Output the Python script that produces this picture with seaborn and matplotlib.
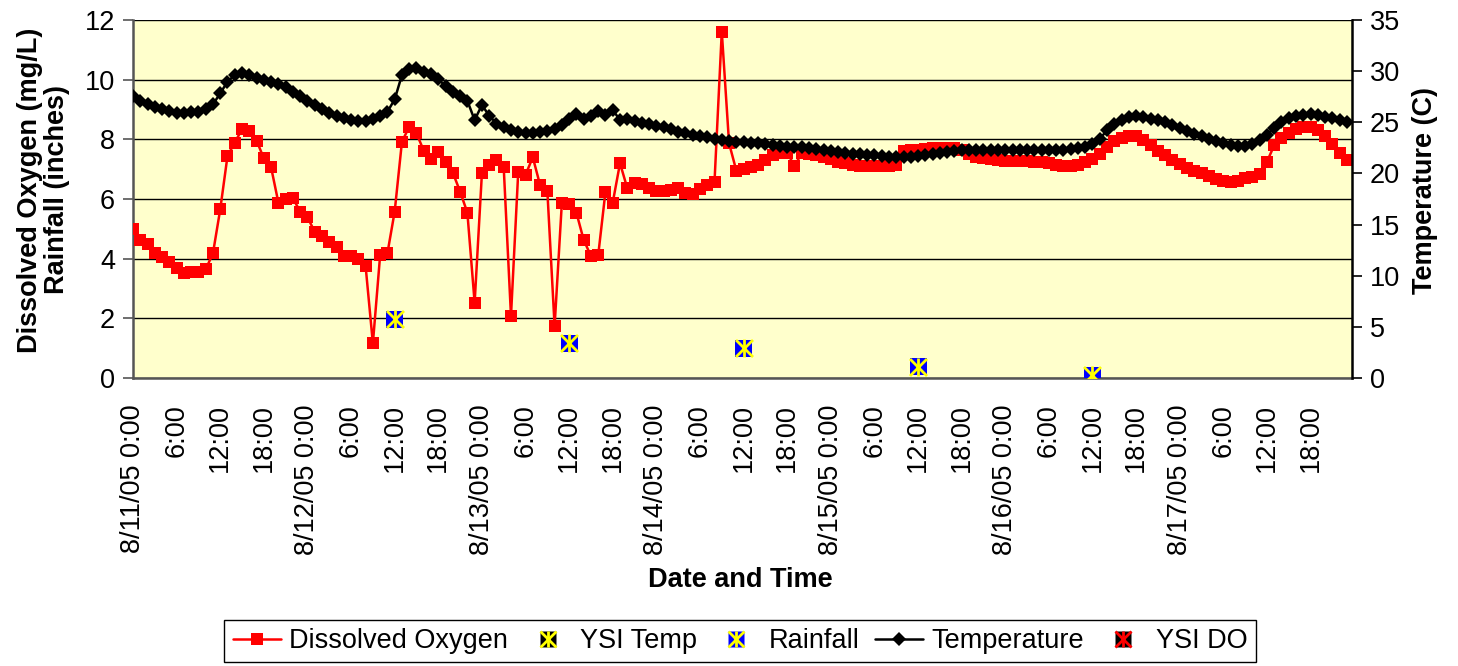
import matplotlib
matplotlib.use("Agg")
import matplotlib.pyplot as plt
from matplotlib.lines import Line2D
import seaborn as sns
import numpy as np

# ---------------- data (hourly, hour 0 = 8/11/05 0:00) ----------------
do_values = [
    5.0, 4.63, 4.49, 4.2, 4.07, 3.88, 3.68, 3.51, 3.55, 3.56,
    3.64, 4.18, 5.65, 7.44, 7.89, 8.34, 8.29, 7.96, 7.36, 7.06,
    5.88, 5.99, 6.02, 5.58, 5.39, 4.9, 4.76, 4.57, 4.4, 4.09,
    4.09, 3.98, 3.75, 1.16, 4.12, 4.18, 5.58, 7.92, 8.42, 8.2,
    7.62, 7.33, 7.58, 7.25, 6.88, 6.25, 5.54, 2.52, 6.86, 7.14,
    7.31, 7.06, 2.08, 6.92, 6.81, 7.4, 6.47, 6.28, 1.74, 5.88,
    5.83, 5.54, 4.63, 4.09, 4.12, 6.25, 5.88, 7.2, 6.36, 6.55,
    6.5, 6.36, 6.28, 6.28, 6.3, 6.36, 6.21, 6.17, 6.32, 6.47,
    6.58, 11.61, 7.87, 6.95, 7.0, 7.06, 7.14, 7.31, 7.48, 7.53,
    7.55, 7.11, 7.53, 7.51, 7.48, 7.4, 7.33, 7.25, 7.2, 7.14,
    7.11, 7.1, 7.1, 7.1, 7.12, 7.15, 7.6, 7.63, 7.65, 7.68,
    7.7, 7.72, 7.72, 7.7, 7.65, 7.5, 7.42, 7.38, 7.33, 7.3,
    7.28, 7.27, 7.26, 7.26, 7.25, 7.24, 7.22, 7.15, 7.12, 7.12,
    7.15, 7.25, 7.35, 7.5, 7.75, 7.95, 8.05, 8.1, 8.1, 7.98,
    7.8, 7.62, 7.48, 7.3, 7.16, 7.05, 6.95, 6.87, 6.78, 6.68,
    6.62, 6.56, 6.6, 6.7, 6.75, 6.85, 7.25, 7.8, 8.03, 8.2,
    8.35, 8.42, 8.4, 8.3, 8.1, 7.85, 7.55, 7.3,
]

temp_values = [
    27.57, 27.1, 26.75, 26.46, 26.26, 26.1, 25.93, 25.87, 25.97, 26.03,
    26.26, 26.75, 27.83, 28.97, 29.62, 29.78, 29.62, 29.3, 29.13, 28.97,
    28.74, 28.48, 27.99, 27.57, 27.1, 26.69, 26.26, 25.87, 25.6, 25.38,
    25.22, 25.12, 25.12, 25.28, 25.6, 26.03, 27.24, 29.62, 30.17, 30.27,
    29.95, 29.72, 29.2, 28.54, 27.99, 27.57, 27.1, 25.22, 26.69, 25.65,
    24.88, 24.5, 24.24, 24.08, 23.98, 23.98, 24.08, 24.14, 24.31, 24.73,
    25.28, 25.81, 25.28, 25.6, 26.13, 25.71, 26.2, 25.22, 25.28, 25.15,
    24.96, 24.83, 24.63, 24.5, 24.31, 24.08, 23.92, 23.75, 23.66, 23.53,
    23.33, 23.26, 23.2, 23.1, 23.1, 23.0, 22.94, 22.87, 22.78, 22.68,
    22.61, 22.61, 22.55, 22.45, 22.35, 22.29, 22.19, 22.09, 22.02, 21.9,
    21.9, 21.85, 21.8, 21.72, 21.65, 21.6, 21.57, 21.6, 21.7, 21.8,
    21.9, 22.0, 22.1, 22.2, 22.25, 22.3, 22.3, 22.3, 22.3, 22.3,
    22.3, 22.3, 22.3, 22.3, 22.3, 22.3, 22.3, 22.3, 22.32, 22.35,
    22.45, 22.6, 22.85, 23.4, 24.2, 24.85, 25.25, 25.5, 25.6, 25.5,
    25.35, 25.2, 25.0, 24.75, 24.45, 24.15, 23.9, 23.65, 23.4, 23.15,
    22.95, 22.75, 22.65, 22.72, 22.9, 23.26, 23.8, 24.45, 25.0, 25.4,
    25.65, 25.75, 25.8, 25.7, 25.55, 25.4, 25.25, 25.05,
]

hours = list(range(len(do_values)))

rain_hours = [36, 60, 84, 108, 132]
rain_values = [1.97, 1.16, 0.99, 0.38, 0.10]

tick_hours = list(range(0, 163, 6))
tick_labels = [
    "8/11/05 0:00", "6:00", "12:00", "18:00",
    "8/12/05 0:00", "6:00", "12:00", "18:00",
    "8/13/05 0:00", "6:00", "12:00", "18:00",
    "8/14/05 0:00", "6:00", "12:00", "18:00",
    "8/15/05 0:00", "6:00", "12:00", "18:00",
    "8/16/05 0:00", "6:00", "12:00", "18:00",
    "8/17/05 0:00", "6:00", "12:00", "18:00",
]

left_ticks = [0, 2, 4, 6, 8, 10, 12]
right_ticks = [0, 5, 10, 15, 20, 25, 30, 35]

# ---------------- style ----------------
sns.set_style("white")
plt.rcParams["font.family"] = ["Liberation Sans", "DejaVu Sans"]
plt.rcParams["text.color"] = "black"
plt.rcParams["axes.labelcolor"] = "black"
plt.rcParams["xtick.color"] = "black"
plt.rcParams["ytick.color"] = "black"
FS = 19.5

W, H = 1458, 666
fig = plt.figure(figsize=(W / 100, H / 100), dpi=100)
ax = fig.add_axes([133 / W, 1 - 378 / H, (1352 - 133) / W, (378 - 20) / H])
ax.set_facecolor("#FFFFCC")

# gridlines
for t in left_ticks:
    ax.axhline(t, color="black", lw=1.0, zorder=1)

# Dissolved oxygen
sns.lineplot(x=hours, y=do_values, ax=ax, color="#FF0000", lw=1.8,
             marker="s", markersize=9.0, markeredgewidth=0, zorder=3,
             legend=False)

# Rainfall markers (blue square with yellow star)
sns.scatterplot(x=rain_hours, y=rain_values, ax=ax, marker="s", s=150,
                color="#0000FF", edgecolor="none", zorder=4, legend=False)
sns.scatterplot(x=rain_hours, y=rain_values, ax=ax, marker="x", s=150,
                color="#FFFF00", linewidth=2, zorder=5, legend=False)
sns.scatterplot(x=rain_hours, y=rain_values, ax=ax, marker="|", s=150,
                color="#FFFF00", linewidth=2, zorder=5, legend=False)

ax.set_xlim(0, 167.7)
ax.set_ylim(0, 12)
ax.set_yticks(left_ticks)
ax.set_yticklabels([str(t) for t in left_ticks], fontsize=FS, color="black")
ax.set_xticks(tick_hours)
ax.set_xticklabels(tick_labels, rotation=90, fontsize=FS, color="black")
ax.tick_params(axis="both", direction="out", length=7, width=1.2,
               color="#555555", pad=6)
ax.tick_params(axis="x", pad=12)
ax.set_xlabel("")
ax.set_ylabel("")
for s in ["top", "right"]:
    ax.spines[s].set_visible(False)
for s in ["left", "bottom"]:
    ax.spines[s].set_color("#555555")
    ax.spines[s].set_linewidth(1.8)

# Temperature (right axis)
ax2 = ax.twinx()
sns.lineplot(x=hours, y=temp_values, ax=ax2, color="black", lw=1.8,
             marker="D", markersize=6.8, markeredgewidth=0, zorder=3,
             legend=False)
ax2.set_ylim(0, 35)
ax2.set_xlim(0, 167.7)
ax2.set_yticks(right_ticks)
ax2.set_yticklabels([str(t) for t in right_ticks], fontsize=FS, color="black")
ax2.tick_params(axis="y", direction="out", length=7, width=1.2,
                color="black", pad=6)
ax2.set_ylabel("")
for s in ["top", "left", "bottom"]:
    ax2.spines[s].set_visible(False)
ax2.spines["right"].set_color("black")
ax2.spines["right"].set_linewidth(1.8)

# Axis titles
fig.text(44 / W, 1 - 190 / H, "Dissolved Oxygen (mg/L)\nRainfall (inches)",
         rotation=90, ha="center", va="center", fontsize=FS,
         fontweight="bold", linespacing=1.05, color="black")
fig.text(1425 / W, 1 - 190 / H, "Temperature (C)", rotation=90,
         ha="center", va="center", fontsize=FS, fontweight="bold",
         color="black")
fig.text(740 / W, 1 - 580 / H, "Date and Time", ha="center", va="center",
         fontsize=FS, fontweight="bold", color="black")

# Legend
def star(bg, fg):
    return (Line2D([], [], ls="none", marker="s", ms=11, mfc=bg, mec="none"),
            Line2D([], [], ls="none", marker="x", ms=11, mec=fg, mew=2),
            Line2D([], [], ls="none", marker="|", ms=11, mec=fg, mew=2))

handles = [
    Line2D([], [], color="#FF0000", lw=1.8, marker="s", ms=9.0, mew=0),
    star("black", "#FFFF00"),
    star("#0000FF", "#FFFF00"),
    Line2D([], [], color="black", lw=1.8, marker="D", ms=6.8, mew=0),
    star("black", "#FF0000"),
]
labels = ["Dissolved Oxygen", "YSI Temp", "Rainfall", "Temperature", "YSI DO"]
leg = fig.legend(handles, labels, loc="center",
                 bbox_to_anchor=(740 / W, 1 - 641 / H), ncol=5,
                 fontsize=FS, frameon=True, fancybox=False, framealpha=1,
                 edgecolor="black", handlelength=1.8, handletextpad=0.3,
                 columnspacing=0.55, borderpad=0.3, borderaxespad=0)
leg.get_frame().set_linewidth(1.0)
for txt in leg.get_texts():
    txt.set_color("black")

fig.savefig("out.png", dpi=100)
